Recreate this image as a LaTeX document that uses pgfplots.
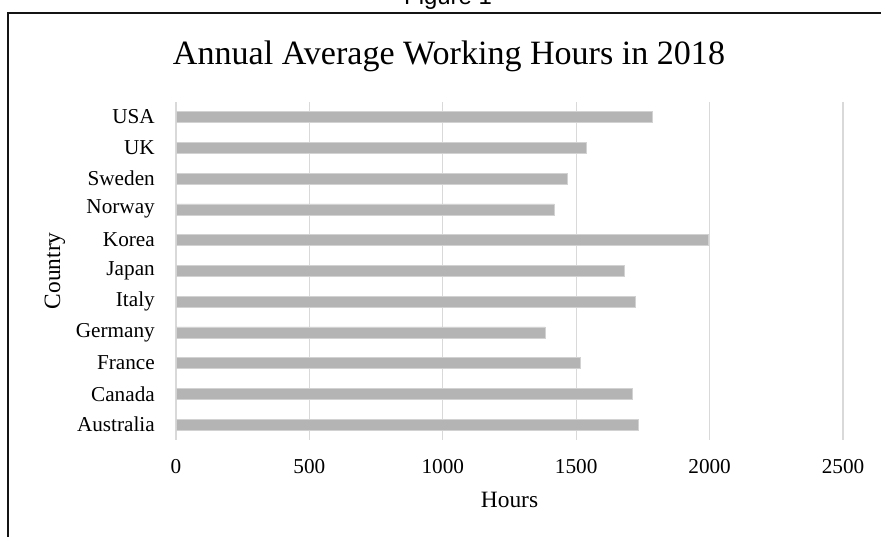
\documentclass[border=0pt]{standalone}
\usepackage{pgfplots}
\pgfplotsset{compat=1.18}
\usepackage{fontspec}
\setmainfont{Liberation Serif}
\newfontfamily\arialfont{Liberation Sans}
\definecolor{bargray}{HTML}{B4B4B4}
\definecolor{baredge}{HTML}{D2D2D2}
\definecolor{gridgray}{HTML}{D9D9D9}
\definecolor{framecol}{HTML}{141414}
\begin{document}
\begin{tikzpicture}[x=1bp,y=1bp]
\useasboundingbox (0,0) rectangle (881,537);
\draw[line width=1.6bp, color=framecol] (8,-5) -- (8,524) -- (890,524);
\node[font=\arialfont\fontsize{24}{28}\selectfont, anchor=base, inner sep=0pt] at (448,532) {Figure 1};
\node[font=\fontsize{34.2}{40}\selectfont, anchor=base, inner sep=0pt] at (449,472) {Annual Average Working Hours in 2018};
\begin{axis}[
  at={(176bp,97bp)}, anchor=south west,
  scale only axis, width=667bp, height=338.3bp,
  xmin=0, xmax=2500, ymin=-0.5, ymax=10.5,
  xbar, bar width=11bp,
  ytick={0,1,2,3,4,5,6,7,8,9,10},
  yticklabels={Australia,Canada,France,Germany,Italy,Japan,Korea,Norway,Sweden,UK,USA},
  xtick={0,500,1000,1500,2000,2500},
  xmajorgrids, ymajorgrids=false,
  major grid style={gridgray, line width=1.1bp},
  axis line style={draw=none},
  major tick length=0pt,
  tick label style={font=\fontsize{21.3}{24}\selectfont},
  /pgf/number format/assume math mode=true,
  scaled x ticks=false,
  /pgf/number format/set thousands separator={},
  yticklabel style={anchor=east, inner sep=0pt, xshift=-21bp},
  xticklabel style={anchor=north, inner sep=0pt, yshift=-19bp},
  xlabel={Hours}, ylabel={Country},
  xlabel style={at={(axis description cs:0.5,-0.201)}, anchor=base, inner sep=0pt, font=\fontsize{23.5}{28}\selectfont},
  ylabel style={at={(axis description cs:-0.1739,0.5)}, anchor=base, inner sep=0pt, font=\fontsize{23.5}{28}\selectfont},
]
\addplot[fill=bargray, draw=baredge, line width=0.6bp] coordinates {
  (1734,0) (1709,1) (1514,2) (1384,3) (1720,4) (1680,5)
  (1994,6) (1418,7) (1467,8) (1537,9) (1784,10)
};
\end{axis}
\end{tikzpicture}
\end{document}
